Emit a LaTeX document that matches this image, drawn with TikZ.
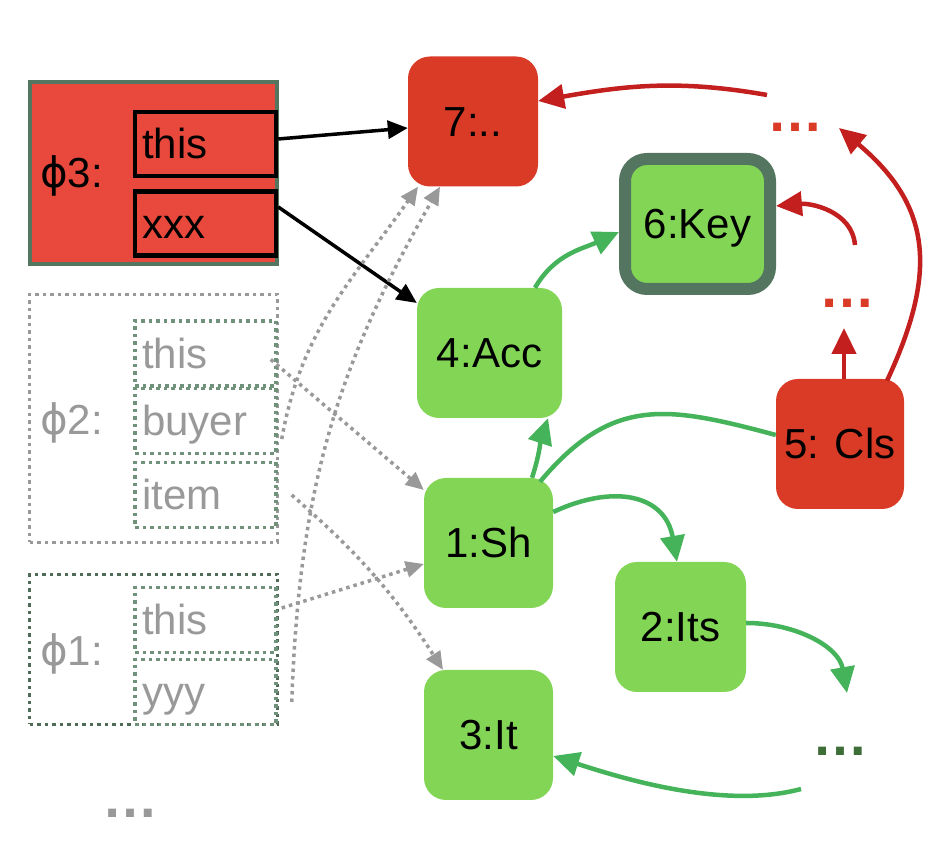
\documentclass[tikz,border=0pt]{standalone}
\usepackage{fontspec}
\setmainfont{Liberation Sans}
\newfontfamily\phifont{DejaVu Sans}
\usetikzlibrary{arrows.meta}

\definecolor{taskgreen}{HTML}{83D655}
\definecolor{taskred}{HTML}{DA3B27}
\definecolor{phired}{HTML}{E9493C}
\definecolor{framegreen}{HTML}{547560}
\definecolor{fieldgreen}{HTML}{70917A}
\definecolor{darkframe}{HTML}{4F6B57}
\definecolor{linegreen}{HTML}{44B35A}
\definecolor{linered}{HTML}{C21F1E}
\definecolor{textgray}{HTML}{999999}
\definecolor{dotgreen}{HTML}{3D6E38}

\begin{document}
\begin{tikzpicture}[x=1pt, y=1pt,
  every node/.style={font=\fontsize{42}{50}\selectfont},
  task/.style={rounded corners=22pt, minimum width=129pt, minimum height=130pt,
    inner sep=0pt, text height=30pt, text depth=0pt},
  frame/.style={minimum width=248pt, inner sep=0pt},
  field/.style={text width=127pt, align=left, inner xsep=7pt, inner ysep=0pt,
    minimum height=65pt, text height=30pt, text depth=0pt},
  dotline/.style={line width=3.5pt, dash pattern=on 3.5pt off 4pt},
  phitext/.style={anchor=base west, inner sep=0pt},
  dots/.style={font=\fontsize{56}{60}\bfseries\selectfont, inner sep=0pt, anchor=base},
  blackarrow/.style={draw=black, line width=3.5pt, -{Triangle[length=20pt, width=18pt]}},
  grayarrow/.style={draw=textgray, line width=3.5pt, dash pattern=on 3.5pt off 4pt,
    -{Triangle[length=18pt, width=16pt]}},
  greenline/.style={draw=linegreen, line width=4.5pt},
  greenarrow/.style={greenline, -{Triangle[length=26pt, width=24pt]}},
  redarrow/.style={draw=linered, line width=4.5pt, -{Triangle[length=26pt, width=24pt]}}]

  \useasboundingbox (0,0) rectangle (948,842);

  % --- the three frames ---
  \node[frame, draw=framegreen, fill=phired, line width=4pt, minimum width=247pt,
    minimum height=182pt] (p3) at (153.5,669) {};
  \node[frame, draw=textgray, dotline, minimum height=248pt] (p2) at (153.5,423.5) {};
  \node[frame, draw=darkframe, dotline, minimum height=150pt] (p1) at (153.5,192.5) {};

  % --- fields ---
  \node[field, draw=black, line width=4.5pt, minimum width=141pt, minimum height=64pt] (p3this) at (205.5,698) {this};
  \node[field, draw=black, line width=4.5pt, minimum width=141pt, minimum height=64pt] (p3xxx) at (205.5,618.5) {xxx};
  \node[field, draw=fieldgreen, dotline, text=textgray] (p2this) at (205.5,488.5) {this};
  \node[field, draw=fieldgreen, dotline, text=textgray] (p2buyer) at (205.5,421) {buyer};
  \node[field, draw=fieldgreen, dotline, text=textgray] (p2item) at (205.5,347) {item};
  \node[field, draw=fieldgreen, dotline, text=textgray] (p1this) at (205.5,222) {this};
  \node[field, draw=fieldgreen, dotline, text=textgray] (p1yyy) at (205.5,150) {yyy};

  \node[phitext] (l3) at (40,654) {{\phifont ϕ}3:};
  \node[phitext, text=textgray] (l2) at (40,407) {{\phifont ϕ}2:};
  \node[phitext, text=textgray] (l1) at (40,176) {{\phifont ϕ}1:};

  % --- tasks ---
  \node[task, fill=taskred, minimum width=130pt] (sev) at (473,720.5) {7:..};
  \node[task, fill=taskgreen, minimum width=145pt] (acc) at (489.5,489) {4:Acc};
  \node[task, fill=taskgreen, draw=framegreen, line width=12pt, minimum width=145pt] (key) at (697.5,618) {6:Key};
  \node[task, fill=taskred, minimum width=128pt] (cls) at (840,398) {5: Cls};
  \node[task, fill=taskgreen] (sh) at (488.5,299) {1:Sh};
  \node[task, fill=taskgreen, minimum width=131pt] (its) at (680.5,215) {2:Its};
  \node[task, fill=taskgreen] (it) at (488.5,107) {3:It};

  \node[dots, text=taskred] (rdots1) at (795,710) {…};
  \node[dots, text=taskred] (rdots2) at (847.5,534) {…};
  \node[dots, text=dotgreen] (gdots) at (840,86) {…};
  \node[dots, text=textgray] (more) at (130.5,24) {…};

  % --- black ---
  \draw[blackarrow] ([yshift=5pt]p3this.east) -- ([yshift=-6.5pt]sev.west);
  \draw[blackarrow] ([yshift=16.5pt]p3xxx.east) -- ([yshift=50pt]acc.west);

  % --- gray dotted ---
  \draw[grayarrow] ([xshift=-7pt,yshift=-6pt]p2this.east) -- ([yshift=53pt]sh.west);
  \draw[grayarrow] ([xshift=4pt,yshift=-18pt]p2buyer.east) to[out=80, in=235] ([xshift=-55pt]sev.south);
  \draw[grayarrow] ([xshift=14pt]p2item.east) to[bend left=8] ([xshift=-45.5pt]it.north);
  \draw[grayarrow] ([xshift=4pt,yshift=12pt]p1this.east) -- ([yshift=-21pt]sh.west);
  \draw[grayarrow] ([xshift=14pt,yshift=-10pt]p1yyy.east) to[out=88, in=240] ([xshift=-33pt]sev.south);

  % --- green ---
  \draw[greenarrow] ([xshift=45.5pt]acc.north) to[out=60, in=205] ([yshift=-8pt]key.west);
  \draw[greenarrow] ([xshift=43.5pt]sh.north) to[out=72, in=252] ([xshift=58.5pt]acc.south);
  \draw[greenline] ([xshift=51.5pt,yshift=-4pt]sh.north) to[out=50, in=165, looseness=1.2] ([yshift=9pt]cls.west);
  \draw[greenarrow] ([yshift=31pt]sh.east) to[out=25, in=100, looseness=1.3] ([xshift=-3.5pt]its.north);
  \draw[greenarrow] ([yshift=4pt]its.east) to[out=0, in=100] ([xshift=7pt,yshift=63pt]gdots.base);
  \draw[greenarrow] ([xshift=-39pt,yshift=-33pt]gdots.base) to[out=195, in=-18, looseness=0.8] ([yshift=-21pt]it.east);

  % --- red ---
  \draw[redarrow] ([xshift=-28pt,yshift=37pt]rdots1.base) to[out=170, in=10] ([yshift=20.5pt]sev.east);
  \draw[redarrow] ([xshift=47pt,yshift=-2pt]cls.north) to[out=65, in=-40, looseness=1.2] ([xshift=44pt,yshift=4pt]rdots1.base);
  \draw[redarrow] ([xshift=4pt]cls.north) -- ([xshift=-3.5pt,yshift=-20pt]rdots2.base);
  \draw[redarrow] ([xshift=7.5pt,yshift=63pt]rdots2.base) to[out=95, in=5] ([yshift=18pt]key.east);
\end{tikzpicture}
\end{document}
